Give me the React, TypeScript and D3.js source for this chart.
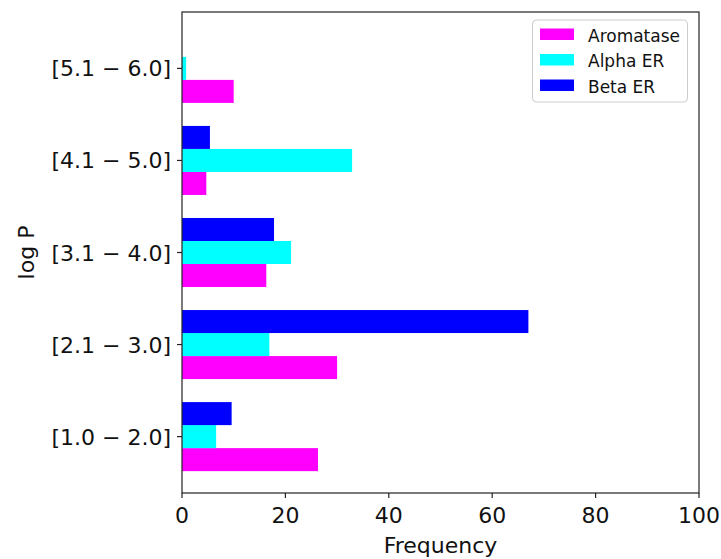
import React from "react";
import * as d3 from "d3";

// log P bins, bottom to top
const categories = ["[1.0 − 2.0]", "[2.1 − 3.0]", "[3.1 − 4.0]", "[4.1 − 5.0]", "[5.1 − 6.0]"];
const aromatase = [26.3, 30.0, 16.3, 4.7, 10.0];
const alphaER = [6.6, 16.9, 21.1, 32.9, 0.8];
const betaER = [9.6, 67.0, 17.8, 5.4, 0];
const xTicks = [0, 20, 40, 60, 80, 100];

const seriesNames = ["Aromatase", "Alpha ER", "Beta ER"];
const seriesColors = ["#ff00ff", "#00ffff", "#0000ff"];

export default function App() {
  const width = 721;
  const height = 559;
  const left = 182;
  const right = 699;
  const top = 12;
  const bottom = 493;
  const barH = 0.25;

  const x = d3.scaleLinear().domain([0, 100]).range([left, right]);
  // matplotlib style 5% margins on the bar extent
  const lo = -1.5 * barH;
  const hi = categories.length - 1 + 1.5 * barH;
  const pad = (hi - lo) * 0.05;
  const y = d3.scaleLinear().domain([lo - pad, hi + pad]).range([bottom, top]);

  const series = [aromatase, alphaER, betaER];
  const offsets = [-barH, 0, barH];

  const font = "DejaVu Sans, sans-serif";

  return (
    <svg width={width} height={height} style={{ position: "absolute", left: 0, top: 0 }} fontFamily={font}>
      <rect width={width} height={height} fill="#fff" />
      {series.map((vals, si) =>
        vals.map((v, i) => {
          const yc = y(i + offsets[si]);
          const h = y(0) - y(barH);
          return (
            <rect
              key={`${si}-${i}`}
              x={x(0)}
              y={yc - h / 2}
              width={x(v) - x(0)}
              height={h}
              fill={seriesColors[si]}
            />
          );
        })
      )}
      {/* frame */}
      <rect x={left} y={top} width={right - left} height={bottom - top} fill="none" stroke="#222" strokeWidth={1.2} />
      {/* x ticks */}
      {xTicks.map((t) => (
        <g key={t}>
          <line x1={x(t)} x2={x(t)} y1={bottom} y2={bottom + 5} stroke="#222" strokeWidth={1.2} />
          <text x={x(t)} y={bottom + 30} textAnchor="middle" fontSize={22} fill="#111">
            {t}
          </text>
        </g>
      ))}
      {/* y ticks */}
      {categories.map((c, i) => (
        <g key={c}>
          <line x1={left - 5} x2={left} y1={y(i)} y2={y(i)} stroke="#222" strokeWidth={1.2} />
          <text x={171} y={y(i) + 8} textAnchor="end" fontSize={22} fill="#111" style={{ whiteSpace: "pre" }}>
            {c}
          </text>
        </g>
      ))}
      <text x={(left + right) / 2} y={553} textAnchor="middle" fontSize={22} fill="#111">
        Frequency
      </text>
      <text transform={`translate(34,${(top + bottom) / 2}) rotate(-90)`} textAnchor="middle" fontSize={22} fill="#111">
        log P
      </text>
      {/* legend */}
      <g>
        <rect x={532.5} y={20} width={155} height={82} rx={4} fill="#fff" fillOpacity={0.8} stroke="#ccc" />
        {seriesNames.map((n, i) => (
          <g key={n}>
            <rect x={540} y={28.5 + i * 25.5} width={34} height={11.5} fill={seriesColors[i]} />
            <text x={588} y={41.5 + i * 25.5} fontSize={17} fill="#111">
              {n}
            </text>
          </g>
        ))}
      </g>
    </svg>
  );
}
